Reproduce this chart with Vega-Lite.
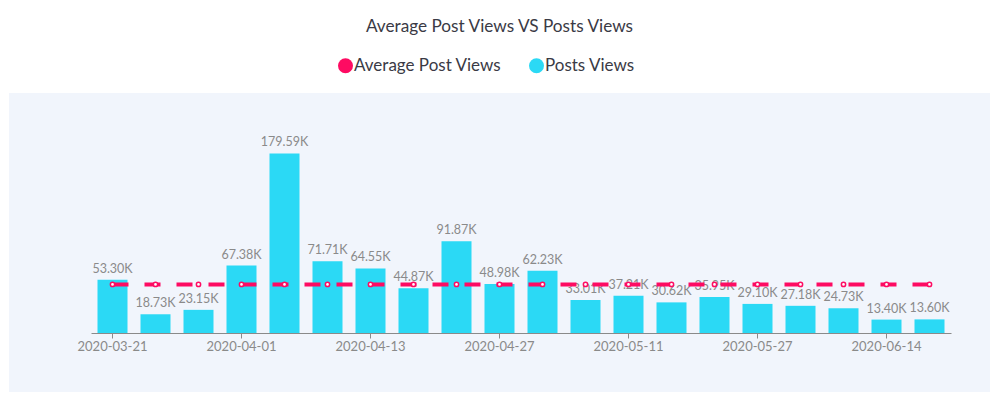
{
  "$schema": "https://vega.github.io/schema/vega-lite/v6.json",
  "width": 981,
  "height": 299,
  "autosize": {"type": "none"},
  "padding": {"left": 9, "top": 93, "right": 7, "bottom": 7},
  "background": "#ffffff",
  "title": {
    "text": "Average Post Views VS Posts Views",
    "font": "Lato",
    "fontSize": 17.2,
    "fontWeight": "normal",
    "color": "#3a3a45",
    "anchor": "middle",
    "offset": 22
  },
  "config": {
    "view": {"fill": "#f1f5fc", "stroke": null},
    "font": "Lato"
  },
  "data": {
    "values": [
      {"date": "2020-03-21", "views": 53.30, "label": "53.30K", "avg": 48.56},
      {"date": "2020-03-25", "views": 18.73, "label": "18.73K", "avg": 48.56},
      {"date": "2020-03-28", "views": 23.15, "label": "23.15K", "avg": 48.56},
      {"date": "2020-04-01", "views": 67.38, "label": "67.38K", "avg": 48.56},
      {"date": "2020-04-05", "views": 179.59, "label": "179.59K", "avg": 48.56},
      {"date": "2020-04-09", "views": 71.71, "label": "71.71K", "avg": 48.56},
      {"date": "2020-04-13", "views": 64.55, "label": "64.55K", "avg": 48.56},
      {"date": "2020-04-17", "views": 44.87, "label": "44.87K", "avg": 48.56},
      {"date": "2020-04-22", "views": 91.87, "label": "91.87K", "avg": 48.56},
      {"date": "2020-04-27", "views": 48.98, "label": "48.98K", "avg": 48.56},
      {"date": "2020-05-01", "views": 62.23, "label": "62.23K", "avg": 48.56},
      {"date": "2020-05-06", "views": 33.01, "label": "33.01K", "avg": 48.56},
      {"date": "2020-05-11", "views": 37.21, "label": "37.21K", "avg": 48.56},
      {"date": "2020-05-16", "views": 30.62, "label": "30.62K", "avg": 48.56},
      {"date": "2020-05-21", "views": 35.95, "label": "35.95K", "avg": 48.56},
      {"date": "2020-05-27", "views": 29.10, "label": "29.10K", "avg": 48.56},
      {"date": "2020-06-02", "views": 27.18, "label": "27.18K", "avg": 48.56},
      {"date": "2020-06-08", "views": 24.73, "label": "24.73K", "avg": 48.56},
      {"date": "2020-06-14", "views": 13.40, "label": "13.40K", "avg": 48.56},
      {"date": "2020-06-20", "views": 13.60, "label": "13.60K", "avg": 48.56}
    ]
  },
  "encoding": {
    "x": {
      "field": "date",
      "type": "ordinal",
      "sort": null,
      "scale": {"range": [82, 942], "paddingInner": 0.3, "paddingOuter": 0.15},
      "axis": {
        "title": null,
        "values": ["2020-03-21", "2020-04-01", "2020-04-13", "2020-04-27", "2020-05-11", "2020-05-27", "2020-06-14"],
        "labelAngle": 0,
        "labelFont": "Lato",
        "labelFontSize": 13,
        "labelColor": "#8a8a8a",
        "labelPadding": 2,
        "domainColor": "#8a8a8a",
        "tickColor": "#8a8a8a",
        "tickSize": 5,
        "offset": -59,
        "grid": false
      }
    }
  },
  "layer": [
    {
      "mark": {"type": "bar", "width": 30},
      "encoding": {
        "y": {
          "field": "views",
          "type": "quantitative",
          "scale": {"domain": [0, 240], "range": [240, 0], "nice": false, "zero": true},
          "axis": null
        },
        "color": {
          "datum": "Posts Views",
          "scale": {"domain": ["Average Post Views", "Posts Views"], "range": ["#fe0b62", "#2bd9f5"]},
          "legend": {
            "title": null,
            "orient": "none",
            "direction": "horizontal",
            "legendX": 328,
            "legendY": -36,
            "symbolType": "circle",
            "symbolSize": 225,
            "symbolStrokeWidth": 0,
            "symbolOpacity": 1,
            "labelFont": "Lato",
            "labelFontSize": 17,
            "labelColor": "#3a3a45",
            "labelOffset": 0,
            "columnPadding": 26,
            "labelLimit": 300
          }
        }
      }
    },
    {
      "mark": {"type": "text", "baseline": "bottom", "dy": -4, "font": "Lato", "fontSize": 12.5, "color": "#8a8a8a"},
      "encoding": {
        "y": {"field": "views", "type": "quantitative"},
        "text": {"field": "label", "type": "nominal"}
      }
    },
    {
      "mark": {"type": "line", "strokeWidth": 4, "strokeDash": [16, 16], "strokeCap": "butt"},
      "encoding": {
        "y": {"field": "avg", "type": "quantitative"},
        "color": {"datum": "Average Post Views"}
      }
    },
    {
      "mark": {"type": "point", "filled": true, "fill": "#ffffff", "stroke": "#fe0b62", "strokeWidth": 1.5, "size": 18, "opacity": 1},
      "encoding": {
        "y": {"field": "avg", "type": "quantitative"}
      }
    }
  ]
}
